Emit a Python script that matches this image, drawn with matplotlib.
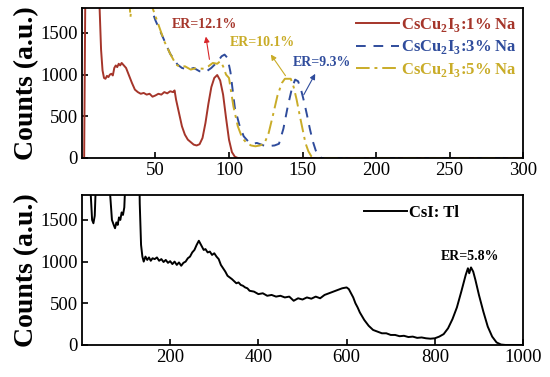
import matplotlib
matplotlib.use('Agg')
import matplotlib.pyplot as plt

plt.rcParams['font.family'] = 'Liberation Serif'
plt.rcParams['mathtext.fontset'] = 'custom'
plt.rcParams['mathtext.rm'] = 'Liberation Serif'
plt.rcParams['mathtext.bf'] = 'Liberation Serif:bold'

# top panel: CsCu2I3 with Na doping
na1_x = [0, 1.5, 2.5, 5, 10, 12, 13, 14, 15, 16, 17, 18, 19, 20, 21, 22, 23, 24, 25, 26, 27, 28,
         30, 32, 34, 36, 38, 40, 42, 44, 46, 48, 50, 52, 54, 56, 58, 60, 62, 63, 64, 66, 68, 70,
         72, 74, 76, 78, 80, 82, 84, 86, 88, 90, 92, 94, 96, 98, 100, 102, 104, 106, 300]
na1_y = [0, 0, 2500, 3000, 2500, 1800, 1300, 1050, 960, 950, 985, 970, 1000, 1010, 990, 1080, 1110, 1090, 1130, 1110, 1140, 1120,
         1080, 990, 900, 820, 790, 770, 780, 760, 770, 735, 750, 770, 760, 790, 775, 800, 790, 810, 700, 540, 380, 280,
         220, 190, 160, 150, 165, 240, 420, 650, 850, 960, 995, 930, 760, 480, 220, 70, 15, 0, 0]

na3_x = [0, 44, 46, 50, 55, 60, 65, 68, 72, 76, 80, 84, 88, 92, 95, 97, 99, 101, 104, 107, 110, 113, 116,
         119, 122, 125, 128, 131, 134, 137, 140, 143, 145, 147, 149, 151, 153, 155, 157, 159, 161, 163, 300]
na3_y = [2500, 2500, 1850, 1650, 1450, 1250, 1120, 1080, 1060, 1080, 1040, 1030, 1080, 1150, 1220, 1240, 1200, 1030, 600, 400, 260, 200, 170,
         180, 160, 140, 145, 150, 170, 350, 620, 850, 940, 920, 820, 680, 520, 350, 200, 90, 20, 0, 0]

na5_x = [0, 30, 31, 33, 35, 40, 46, 48, 52, 56, 60, 64, 67, 70, 74, 78, 82, 86, 89, 92, 94, 96, 98, 100,
         103, 106, 109, 112, 115, 118, 121, 124, 127, 130, 133, 136, 138, 142, 144, 146, 148, 150, 152, 154, 156, 158, 300]
na5_y = [3000, 3000, 2200, 1690, 2100, 2300, 1950, 1800, 1600, 1400, 1250, 1120, 1090, 1100, 1060, 1080, 1070, 1100, 1140, 1130, 1160, 1100, 1000, 960,
         620, 380, 240, 180, 150, 140, 150, 170, 300, 520, 750, 900, 950, 950, 850, 700, 520, 350, 180, 80, 20, 0, 0]

# bottom panel: CsI:Tl reference
csi_x = [0, 15, 20, 23, 26, 29, 31, 33, 60, 64, 68, 72, 75, 78, 81, 84, 87, 90, 93, 96, 98, 100, 128, 131, 134, 137,
         140, 144, 148, 152, 156, 160, 165, 170, 175, 180, 185, 190, 195, 200, 205, 210, 215, 220, 225, 230, 235,
         240, 245, 250, 255, 260, 265, 268, 272, 276, 280, 285, 290, 295, 300, 305, 310, 315, 320, 325, 330, 335,
         340, 350, 355, 360, 365, 370, 375, 380, 390, 400, 410, 420, 430, 440, 450, 460, 470, 480, 490, 500, 510,
         520, 530, 540, 550, 560, 570, 580, 590, 600, 605, 610, 615, 620, 625, 630, 640, 650, 660, 670, 680, 690,
         700, 710, 720, 730, 740, 750, 760, 770, 780, 790, 800, 810, 820, 830, 840, 850, 860, 870, 875, 878, 882,
         887, 892, 900, 910, 920, 930, 940, 950, 960, 1000]
csi_y = [3000, 3000, 1800, 1500, 1460, 1550, 1850, 3000, 3000, 1800, 1500, 1440, 1400, 1470, 1440, 1530, 1500, 1590, 1560, 1650, 1900, 3000, 3000, 1700, 1200, 1060,
         1000, 1060, 1020, 1050, 1010, 1040, 1030, 1050, 1010, 1030, 995, 1020, 985, 1005, 970, 1000, 960, 990, 950, 985, 1000,
         1040, 1060, 1110, 1140, 1200, 1250, 1220, 1180, 1140, 1150, 1110, 1120, 1080, 1100, 1060, 1030, 960, 920, 880, 830, 810,
         790, 740, 750, 720, 710, 690, 680, 650, 640, 610, 620, 590, 600, 580, 590, 570, 580, 530, 560, 545, 570,
         555, 580, 560, 600, 620, 640, 660, 680, 690, 670, 620, 570, 500, 450, 390, 300, 230, 180, 160, 140, 140,
         120, 120, 105, 110, 95, 100, 85, 90, 80, 75, 80, 100, 130, 200, 310, 450, 640, 840, 920, 860, 930,
         880, 780, 600, 400, 220, 100, 30, 5, 0, 0]

red = '#A5352A'
blue = '#2F4C9C'
gold = '#C9AC28'

fig = plt.figure(figsize=(5.5, 3.77), dpi=100)
ax1 = fig.add_axes([0.149, 0.581, 0.802, 0.398])
ax2 = fig.add_axes([0.149, 0.085, 0.802, 0.398])

ax1.plot(na1_x, na1_y, color=red, lw=1.4, label=r'CsCu$_\mathbf{2}$I$_\mathbf{3}$:1% Na')
ax1.plot(na3_x, na3_y, color=blue, lw=1.4, ls=(0, (5, 4)), label=r'CsCu$_\mathbf{2}$I$_\mathbf{3}$:3% Na')
ax1.plot(na5_x, na5_y, color=gold, lw=1.4, ls=(0, (7, 2.5, 1.5, 2.5)), label=r'CsCu$_\mathbf{2}$I$_\mathbf{3}$:5% Na')
ax1.set_xlim(0, 300)
ax1.set_ylim(0, 1800)
ax1.set_xticks([50, 100, 150, 200, 250, 300])
ax1.set_yticks([0, 500, 1000, 1500])

leg = ax1.legend(loc='upper right', frameon=False, prop={'weight': 'bold', 'size': 12},
                 handlelength=2.6, handletextpad=0.1, labelspacing=0.25, borderaxespad=0.1,
                 bbox_to_anchor=(1.005, 1.0))
for t, c in zip(leg.get_texts(), [red, blue, gold]):
    t.set_color(c)

ax1.annotate('ER=12.1%', xy=(87, 1150), xytext=(83, 1600), ha='center', va='center',
             color=red, fontsize=10, fontweight='bold',
             arrowprops=dict(arrowstyle='<|-', color='#D8262A', lw=0.8, mutation_scale=8))
ax1.annotate('ER=10.1%', xy=(139.5, 960), xytext=(123, 1380), ha='center', va='center',
             color=gold, fontsize=10, fontweight='bold',
             arrowprops=dict(arrowstyle='<|-', color=gold, lw=0.8, mutation_scale=8))
ax1.annotate('ER=9.3%', xy=(150, 730), xytext=(163, 1150), ha='center', va='center',
             color=blue, fontsize=10, fontweight='bold',
             arrowprops=dict(arrowstyle='<|-', color=blue, lw=0.8, mutation_scale=8))

ax2.plot(csi_x, csi_y, color='black', lw=1.4, label='CsI: Tl')
ax2.set_xlim(0, 1000)
ax2.set_ylim(0, 1800)
ax2.set_xticks([200, 400, 600, 800, 1000])
ax2.set_yticks([0, 500, 1000, 1500])
ax2.legend(loc='upper right', frameon=False, prop={'weight': 'bold', 'size': 12},
           handlelength=2.6, handletextpad=0.1, borderaxespad=0.2, bbox_to_anchor=(0.877, 1.0))
ax2.text(880, 1060, 'ER=5.8%', ha='center', va='center', fontsize=10, fontweight='bold')

for ax in (ax1, ax2):
    ax.tick_params(direction='in', labelsize=13.5, length=4, width=1.2, pad=3)
    ax.set_ylabel('Counts (a.u.)', fontsize=20, fontweight='bold', labelpad=1)
    for s in ax.spines.values():
        s.set_linewidth(1.3)

fig.savefig('out.png', dpi=100)
